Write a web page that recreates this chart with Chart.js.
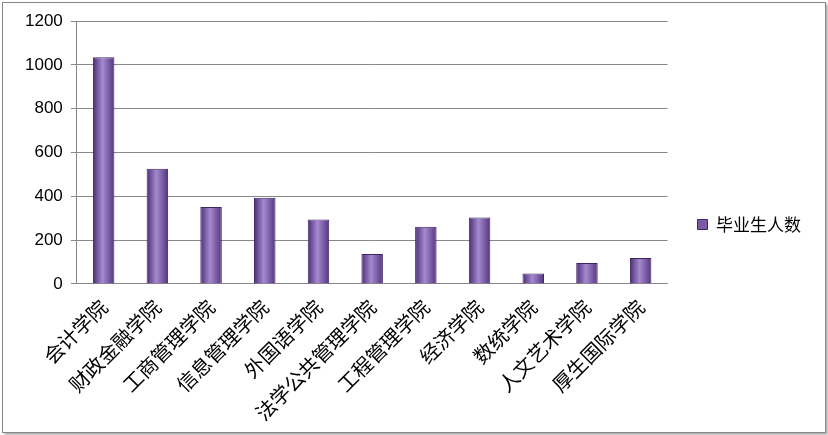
<!DOCTYPE html>
<html><head><meta charset="utf-8">
<script src="https://cdn.jsdelivr.net/npm/chart.js@4"></script>
<style>body{margin:0;background:#fff}#w{position:absolute;left:2px;top:2px;width:822px;height:429px;border:1px solid #888;box-shadow:2px 2px 3px #aaa}</style>
</head><body><div id="w"><canvas id="c" width="822" height="429"></canvas></div>
<script>
const categories=["会计学院","财政金融学院","工商管理学院","信息管理学院","外国语学院","法学公共管理学院","工程管理学院","经济学院","数统学院","人文艺术学院","厚生国际学院"];
const seriesName="毕业生人数";
const values=[1035,526,351,393,294,137,261,303,47,95,118];
const ctx=document.getElementById('c').getContext('2d');
function grad(c){const ch=c.chart;const sx=ch.scales&&ch.scales.x;if(!ch.chartArea||!sx||c.dataIndex===undefined)return'#7b5aa6';
const x=sx.getPixelForValue(c.dataIndex);const w=sx.width/categories.length*0.4;
const g=ch.ctx.createLinearGradient(x-w/2,0,x+w/2,0);
g.addColorStop(0,'#4b2d75');g.addColorStop(0.45,'#a58ad0');g.addColorStop(1,'#54357f');return g;}
new Chart(ctx,{type:'bar',data:{labels:categories,datasets:[{label:seriesName,data:values,backgroundColor:grad,borderColor:'#3e2565',borderWidth:1,barPercentage:0.4,categoryPercentage:1}]},
options:{responsive:false,animation:false,layout:{padding:{left:14,right:14,top:18,bottom:4}},
plugins:{legend:{position:'right',labels:{boxWidth:10,boxHeight:10,font:{size:17,family:'Noto Sans CJK SC'},color:'#000',padding:30,generateLabels:()=>[{text:seriesName,fillStyle:'#7b5aa6',strokeStyle:'#3e2565',lineWidth:1}]}},tooltip:{enabled:false}},
scales:{y:{min:0,max:1200,ticks:{stepSize:200,padding:8,color:'#000',font:{size:17,family:'Liberation Sans'},callback:v=>String(v)},grid:{color:'#888',tickLength:6},border:{color:'#888'}},
x:{ticks:{color:'#000',maxRotation:45,minRotation:45,font:{size:20,family:'Noto Sans CJK SC'}},grid:{display:false},border:{color:'#888'}}}}});
</script></body></html>
